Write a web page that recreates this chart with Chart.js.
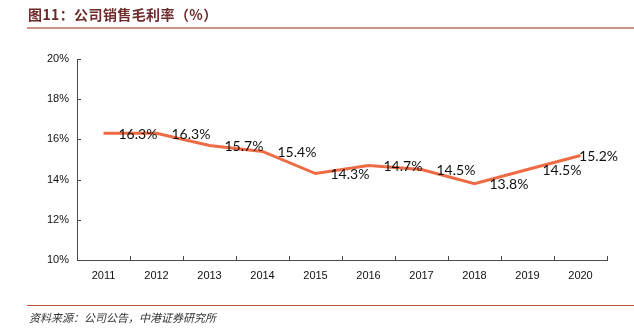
<!DOCTYPE html>
<html>
<head>
<meta charset="utf-8">
<script src="https://cdn.jsdelivr.net/npm/chart.js@4/dist/chart.umd.min.js"></script>
<style>
  html, body { margin: 0; padding: 0; background: #fff; }
  #wrap { position: relative; width: 634px; height: 331px; overflow: hidden; }
  #chart { position: absolute; left: 0; top: 0; }
  .title {
    position: absolute; left: 28px; top: 5px;
    font-family: "Noto Sans CJK SC", sans-serif; font-weight: bold;
    font-size: 14px; line-height: 18px; color: #6E2B2B; white-space: nowrap;
    letter-spacing: 0.4px;
  }
  .rule-top { position: absolute; left: 27px; right: 0; top: 27px; height: 0; border-top: 2px solid #CB9385; }
  .rule-bottom { position: absolute; left: 27px; right: 0; top: 305px; height: 0; border-top: 1px solid #B8553B; }
  .source {
    position: absolute; left: 29px; top: 310px;
    font-family: "Noto Sans CJK SC", sans-serif; font-style: italic;
    font-size: 11px; line-height: 14px; color: #333; white-space: nowrap;
  }
</style>
</head>
<body>
<div id="wrap">
  <canvas id="chart" width="634" height="331"></canvas>
  <div class="title">图11：公司销售毛利率（%）</div>
  <div class="rule-top"></div>
  <div class="rule-bottom"></div>
  <div class="source">资料来源：公司公告，中港证券研究所</div>
</div>
<script>
// Years on the category axis
const years = ['2011', '2012', '2013', '2014', '2015', '2016', '2017', '2018', '2019', '2020'];
// Gross margin per year, in percent
const grossMargin = [16.3, 16.3, 15.7, 15.4, 14.3, 14.7, 14.5, 13.8, 14.5, 15.2];
// Value axis range and step
const yMin = 10;
const yMax = 20;
const yStep = 2;

const axisColor = '#4a4a4a';

// Short inward tick marks on both axes
const innerTicks = {
  id: 'innerTicks',
  afterDraw(chart) {
    const ctx = chart.ctx;
    const ys = chart.scales.y;
    const area = chart.chartArea;
    ctx.save();
    ctx.strokeStyle = axisColor;
    ctx.lineWidth = 1;
    ctx.beginPath();
    const n = years.length;
    for (let i = 1; i <= n; i++) {
      const x = Math.round(area.left + (area.right - area.left) * i / n) + 0.5;
      ctx.moveTo(x, area.bottom);
      ctx.lineTo(x, area.bottom - 4);
    }
    ys.ticks.forEach((t) => {
      const y = Math.round(ys.getPixelForValue(t.value)) + 0.5;
      ctx.moveTo(area.left, y);
      ctx.lineTo(area.left + 4, y);
    });
    ctx.stroke();
    ctx.restore();
  }
};

// Value labels to the right of each point
const valueLabels = {
  id: 'valueLabels',
  afterDatasetsDraw(chart) {
    const ctx = chart.ctx;
    const meta = chart.getDatasetMeta(0);
    const limit = chart.chartArea.right + 11;
    ctx.save();
    ctx.font = '14px Lato, sans-serif';
    ctx.fillStyle = '#111';
    ctx.textBaseline = 'middle';
    ctx.textAlign = 'left';
    meta.data.forEach((pt, i) => {
      const text = grossMargin[i].toFixed(1) + '%';
      const w = ctx.measureText(text).width;
      let x = pt.x + 15;
      if (x + w > limit) x = limit - w;
      ctx.fillText(text, x, pt.y + 1);
    });
    ctx.restore();
  }
};

new Chart(document.getElementById('chart'), {
  type: 'line',
  data: {
    labels: years,
    datasets: [{
      data: grossMargin,
      borderColor: '#EE6B44',
      borderWidth: 3,
      pointRadius: 0,
      tension: 0,
      fill: false
    }]
  },
  options: {
    responsive: false,
    animation: false,
    layout: { padding: { left: 0, right: 27, top: 59, bottom: 41 } },
    plugins: { legend: { display: false }, tooltip: { enabled: false } },
    scales: {
      x: {
        offset: true,
        grid: { display: false },
        border: { display: true, color: axisColor, width: 1 },
        ticks: {
          color: '#111',
          font: { family: '"Liberation Sans", Arial, sans-serif', size: 11 },
          padding: 1,
          maxRotation: 0,
          autoSkip: false
        },
        afterFit(scale) { scale.height = 30; }
      },
      y: {
        min: yMin,
        max: yMax,
        grid: { display: false },
        border: { display: true, color: axisColor, width: 1 },
        ticks: {
          stepSize: yStep,
          color: '#111',
          font: { family: '"Liberation Sans", Arial, sans-serif', size: 11 },
          padding: 0,
          callback: (v) => v + '%'
        },
        afterFit(scale) { scale.width = 77; }
      }
    }
  },
  plugins: [innerTicks, valueLabels]
});
</script>
</body>
</html>
